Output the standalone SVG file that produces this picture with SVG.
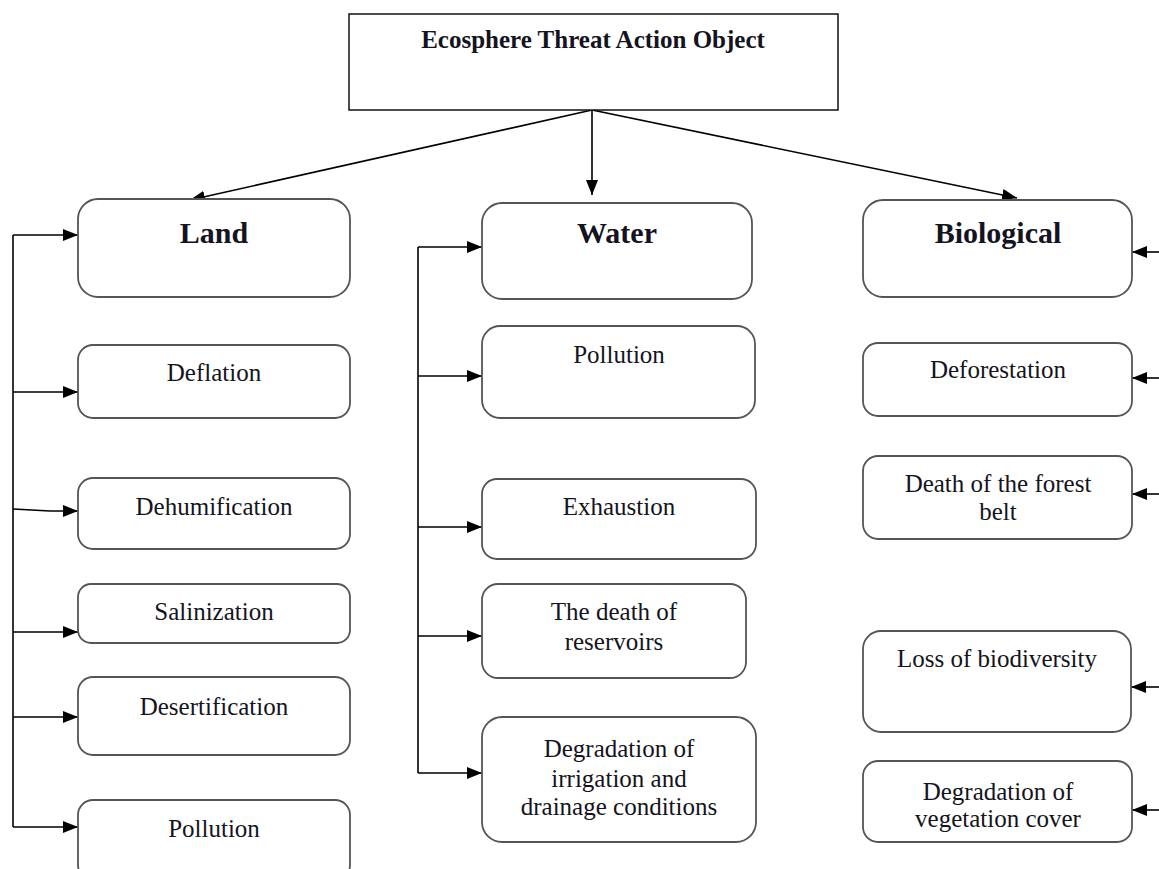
<svg xmlns="http://www.w3.org/2000/svg" width="1159" height="869" viewBox="0 0 1159 869">
<style>
.bg{fill:#fff}
.box{fill:#fff;stroke:#555;stroke-width:1.8}
.top{fill:#fff;stroke:#111;stroke-width:1.5}
.t{font-family:"Liberation Serif","Times New Roman",serif;font-size:25px;fill:#141420;text-anchor:middle}
.h{font-family:"Liberation Serif","Times New Roman",serif;font-size:30px;font-weight:bold;fill:#141420;text-anchor:middle}
.tt{font-family:"Liberation Serif","Times New Roman",serif;font-size:25px;font-weight:bold;fill:#141420;text-anchor:middle}
.c{fill:none;stroke:#000;stroke-width:1.6}
</style>
<defs>
<marker id="ah" markerUnits="userSpaceOnUse" markerWidth="15" markerHeight="12" refX="15" refY="6" orient="auto">
<path d="M0,0 L15,6 L0,12 z" fill="#000"/>
</marker>
</defs>
<rect class="bg" x="0" y="0" width="1159" height="869"/>

<g id="connectors">
<path class="c" d="M592,110 L190,200" marker-end="url(#ah)"/>
<path class="c" d="M592,110 L592,195" marker-end="url(#ah)"/>
<path class="c" d="M592,110 L1017,198" marker-end="url(#ah)"/>
<path class="c" d="M13,235 L13,827"/>
<path class="c" d="M13,235 L78,235" marker-end="url(#ah)"/>
<path class="c" d="M13,392 L78,392" marker-end="url(#ah)"/>
<path class="c" d="M13,509 L50,511 L78,511" marker-end="url(#ah)"/>
<path class="c" d="M13,632 L78,632" marker-end="url(#ah)"/>
<path class="c" d="M13,717 L78,717" marker-end="url(#ah)"/>
<path class="c" d="M13,827 L78,827" marker-end="url(#ah)"/>
<path class="c" d="M418,247 L418,773"/>
<path class="c" d="M418,247 L482,247" marker-end="url(#ah)"/>
<path class="c" d="M418,376 L482,376" marker-end="url(#ah)"/>
<path class="c" d="M418,527 L482,527" marker-end="url(#ah)"/>
<path class="c" d="M418,636 L482,636" marker-end="url(#ah)"/>
<path class="c" d="M418,773 L482,773" marker-end="url(#ah)"/>
<path class="c" d="M1160,252 L1132,252" marker-end="url(#ah)"/>
<path class="c" d="M1160,378 L1132,378" marker-end="url(#ah)"/>
<path class="c" d="M1160,494 L1132,494" marker-end="url(#ah)"/>
<path class="c" d="M1160,687 L1131,687" marker-end="url(#ah)"/>
<path class="c" d="M1160,810 L1132,810" marker-end="url(#ah)"/>
</g>

<g id="root">
<rect class="top" x="349" y="14" width="489" height="96"/>
<text class="tt" x="593" y="48">Ecosphere Threat Action Object</text>
</g>

<g id="land">
<rect class="box" x="78" y="199" width="272" height="98" rx="20"/>
<text class="h" x="214" y="243">Land</text>
</g>
<g id="deflation">
<rect class="box" x="78" y="345" width="272" height="73" rx="15"/>
<text class="t" x="214" y="381">Deflation</text>
</g>
<g id="dehumification">
<rect class="box" x="78" y="478" width="272" height="71" rx="15"/>
<text class="t" x="214" y="515">Dehumification</text>
</g>
<g id="salinization">
<rect class="box" x="78" y="584" width="272" height="59" rx="13"/>
<text class="t" x="214" y="620">Salinization</text>
</g>
<g id="desertification">
<rect class="box" x="78" y="677" width="272" height="78" rx="15"/>
<text class="t" x="214" y="715">Desertification</text>
</g>
<g id="land-pollution">
<rect class="box" x="78" y="800" width="272" height="80" rx="15"/>
<text class="t" x="214" y="837">Pollution</text>
</g>

<g id="water">
<rect class="box" x="482" y="203" width="270" height="96" rx="20"/>
<text class="h" x="617" y="243">Water</text>
</g>
<g id="water-pollution">
<rect class="box" x="482" y="326" width="273" height="92" rx="18"/>
<text class="t" x="619" y="363">Pollution</text>
</g>
<g id="exhaustion">
<rect class="box" x="482" y="479" width="274" height="80" rx="15"/>
<text class="t" x="619" y="515">Exhaustion</text>
</g>
<g id="reservoirs">
<rect class="box" x="482" y="584" width="264" height="94" rx="16"/>
<text class="t" x="614" y="620">The death of</text>
<text class="t" x="614" y="650">reservoirs</text>
</g>
<g id="irrigation">
<rect class="box" x="482" y="717" width="274" height="125" rx="20"/>
<text class="t" x="619" y="757">Degradation of</text>
<text class="t" x="619" y="787">irrigation  and</text>
<text class="t" x="619" y="815">drainage conditions</text>
</g>

<g id="biological">
<rect class="box" x="863" y="200" width="269" height="97" rx="20"/>
<text class="h" x="998" y="243">Biological</text>
</g>
<g id="deforestation">
<rect class="box" x="863" y="343" width="269" height="73" rx="15"/>
<text class="t" x="998" y="378">Deforestation</text>
</g>
<g id="forest-belt">
<rect class="box" x="863" y="456" width="269" height="83" rx="15"/>
<text class="t" x="998" y="492">Death of the forest</text>
<text class="t" x="998" y="520">belt</text>
</g>
<g id="biodiversity">
<rect class="box" x="863" y="631" width="268" height="101" rx="18"/>
<text class="t" x="997" y="667">Loss of biodiversity</text>
</g>
<g id="vegetation">
<rect class="box" x="863" y="761" width="269" height="81" rx="15"/>
<text class="t" x="998" y="800">Degradation of</text>
<text class="t" x="998" y="827">vegetation cover</text>
</g>
</svg>
